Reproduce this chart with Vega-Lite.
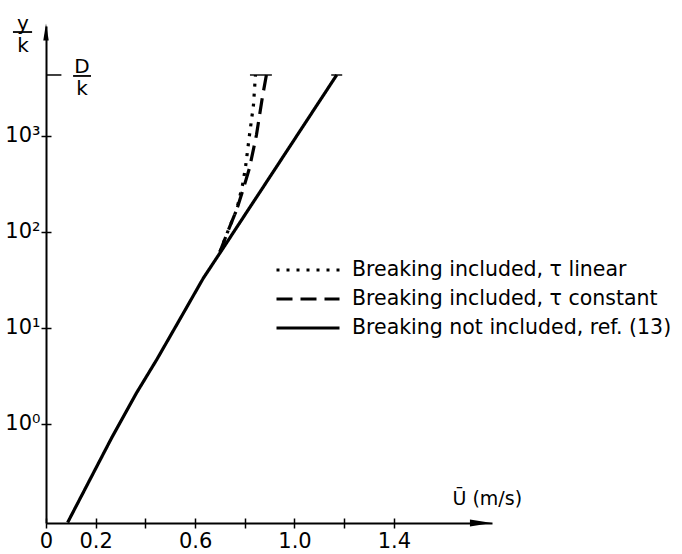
{
  "$schema": "https://vega.github.io/schema/vega-lite/v6.json",
  "width": 446,
  "height": 497,
  "autosize": {"type": "none"},
  "padding": {"left": 46, "top": 26, "right": 190, "bottom": 31},
  "background": "white",
  "config": {
    "view": {"stroke": null},
    "font": "DejaVu Sans",
    "axis": {"grid": false, "domainColor": "black", "tickColor": "black", "labelColor": "black", "titleColor": "black", "titleFontWeight": "normal"}
  },
  "datasets": {
    "curves": [
      {"series": "Breaking not included, ref. (13)", "U": 0.087, "y": 0.094},
      {"series": "Breaking not included, ref. (13)", "U": 0.264, "y": 0.715},
      {"series": "Breaking not included, ref. (13)", "U": 0.364, "y": 2.1},
      {"series": "Breaking not included, ref. (13)", "U": 0.445, "y": 4.65},
      {"series": "Breaking not included, ref. (13)", "U": 0.537, "y": 12.1},
      {"series": "Breaking not included, ref. (13)", "U": 0.633, "y": 33},
      {"series": "Breaking not included, ref. (13)", "U": 0.703, "y": 62},
      {"series": "Breaking not included, ref. (13)", "U": 0.779, "y": 124},
      {"series": "Breaking not included, ref. (13)", "U": 0.885, "y": 324},
      {"series": "Breaking not included, ref. (13)", "U": 1.029, "y": 1200},
      {"series": "Breaking not included, ref. (13)", "U": 1.170, "y": 4320},
      {"series": "Breaking included, τ linear", "U": 0.700, "y": 62},
      {"series": "Breaking included, τ linear", "U": 0.734, "y": 105},
      {"series": "Breaking included, τ linear", "U": 0.767, "y": 169},
      {"series": "Breaking included, τ linear", "U": 0.791, "y": 309},
      {"series": "Breaking included, τ linear", "U": 0.803, "y": 475},
      {"series": "Breaking included, τ linear", "U": 0.819, "y": 1024},
      {"series": "Breaking included, τ linear", "U": 0.835, "y": 2104},
      {"series": "Breaking included, τ linear", "U": 0.843, "y": 4320},
      {"series": "Breaking included, τ constant", "U": 0.700, "y": 62},
      {"series": "Breaking included, τ constant", "U": 0.734, "y": 105},
      {"series": "Breaking included, τ constant", "U": 0.767, "y": 169},
      {"series": "Breaking included, τ constant", "U": 0.795, "y": 287},
      {"series": "Breaking included, τ constant", "U": 0.819, "y": 464},
      {"series": "Breaking included, τ constant", "U": 0.847, "y": 1024},
      {"series": "Breaking included, τ constant", "U": 0.871, "y": 2547},
      {"series": "Breaking included, τ constant", "U": 0.887, "y": 4320}
    ]
  },
  "layer": [
    {
      "data": {"name": "curves"},
      "mark": {"type": "line", "strokeWidth": 3.2, "color": "black", "clip": false},
      "encoding": {
        "x": {
          "field": "U", "type": "quantitative",
          "scale": {"domain": [0, 1.795], "nice": false, "zero": false},
          "axis": {
            "orient": "bottom",
            "values": [0, 0.2, 0.4, 0.6, 0.8, 1.0, 1.2, 1.4],
            "labelExpr": "datum.value == 0 ? '0' : ((abs(datum.value - 0.4) < 0.01 || abs(datum.value - 0.8) < 0.01 || abs(datum.value - 1.2) < 0.01) ? '' : format(datum.value, '.1f'))",
            "labelFontSize": 21, "labelPadding": 2, "labelFlush": false, "labelOverlap": false,
            "tickSize": 5, "tickWidth": 1.5, "domainWidth": 2,
            "title": "Ū (m/s)", "titleFontSize": 19, "titleAlign": "left", "titleBaseline": "alphabetic",
            "titleX": 406, "titleY": -19
          }
        },
        "y": {
          "field": "y", "type": "quantitative",
          "scale": {"type": "log", "domain": [0.093, 13990], "nice": false},
          "axis": {
            "orient": "left",
            "values": [1, 10, 100, 1000],
            "labelExpr": "'10' + (datum.value < 5 ? '⁰' : datum.value < 50 ? '¹' : datum.value < 500 ? '²' : '³')",
            "labelFontSize": 21, "labelPadding": 1, "labelFlush": false, "labelOverlap": false,
            "tickSize": 5, "tickWidth": 1.5, "domainWidth": 2,
            "title": ["y", "k"], "titleFontSize": 20, "titleLineHeight": 22, "titleAngle": 0,
            "titleAlign": "center", "titleBaseline": "middle", "titleX": -23.5, "titleY": -3
          }
        },
        "strokeDash": {
          "field": "series", "type": "nominal",
          "scale": {
            "domain": ["Breaking included, τ linear", "Breaking included, τ constant", "Breaking not included, ref. (13)"],
            "range": [[3, 7], [16, 8], [1, 0]]
          },
          "legend": {
            "title": null, "orient": "none", "legendX": 250, "legendY": 232,
            "symbolType": "M-3,0H3", "symbolSize": 441, "symbolStrokeWidth": 3, "symbolStrokeColor": "black", "symbolFillColor": "transparent",
            "labelFontSize": 20.5, "labelColor": "black", "labelOffset": 32, "rowPadding": 6, "labelLimit": 400
          }
        }
      }
    },
    {
      "data": {"name": "curves"},
      "transform": [{"filter": "datum.y >= 4320"}],
      "mark": {"type": "tick", "orient": "horizontal", "size": 11, "thickness": 2, "color": "black", "clip": false},
      "encoding": {
        "x": {
          "field": "U", "type": "quantitative",
          "scale": {"domain": [0, 1.795], "nice": false, "zero": false},
          "axis": {"orient": "bottom", "offset": -5, "values": [0, 0.2, 0.4, 0.6, 0.8, 1.0, 1.2, 1.4], "labels": false, "domain": false, "tickSize": 5, "tickWidth": 1.5, "title": null}
        },
        "y": {
          "field": "y", "type": "quantitative",
          "scale": {"type": "log", "domain": [0.093, 13990], "nice": false},
          "axis": {"orient": "left", "offset": -5, "values": [1, 10, 100, 1000], "labels": false, "domain": false, "tickSize": 5, "tickWidth": 1.5, "title": null}
        }
      }
    },
    {
      "data": {"values": [{}]},
      "mark": {"type": "rule", "strokeWidth": 1.5, "color": "black", "clip": false},
      "encoding": {
        "x": {"datum": 0, "type": "quantitative", "axis": null},
        "x2": {"datum": 0.062},
        "y": {"datum": 4320, "type": "quantitative", "axis": null}
      }
    },
    {
      "data": {"values": [{}]},
      "mark": {"type": "rule", "strokeWidth": 1.8, "color": "black", "clip": false},
      "encoding": {
        "x": {"datum": 0.109, "type": "quantitative", "axis": null},
        "x2": {"datum": 0.181},
        "y": {"datum": 4220, "type": "quantitative", "axis": null}
      }
    },
    {
      "data": {"values": [{}]},
      "mark": {"type": "rule", "strokeWidth": 1.8, "color": "black", "clip": false},
      "encoding": {
        "x": {"datum": -0.133, "type": "quantitative", "axis": null},
        "x2": {"datum": -0.056},
        "y": {"datum": 12110, "type": "quantitative", "axis": null}
      }
    },
    {
      "data": {"values": [{}]},
      "mark": {"type": "text", "fontSize": 20, "lineHeight": 22, "align": "center", "baseline": "middle", "color": "black", "clip": false, "text": ["D", "k"]},
      "encoding": {
        "x": {"datum": 0.145, "type": "quantitative", "axis": null},
        "y": {"datum": 5236, "type": "quantitative", "axis": null}
      }
    },
    {
      "data": {"values": [{}]},
      "mark": {"type": "point", "shape": "M0,-1L0.32,1L-0.32,1Z", "size": 289, "filled": true, "color": "black", "opacity": 1, "clip": false},
      "encoding": {
        "x": {"datum": 0, "type": "quantitative", "axis": null},
        "y": {"datum": 12110, "type": "quantitative", "axis": null}
      }
    },
    {
      "data": {"values": [{}]},
      "mark": {"type": "point", "shape": "M1,0L-1,0.32L-1,-0.32Z", "size": 484, "filled": true, "color": "black", "opacity": 1, "clip": false},
      "encoding": {
        "x": {"datum": 1.7505, "type": "quantitative", "axis": null},
        "y": {"datum": 0.093, "type": "quantitative", "axis": null}
      }
    }
  ],
  "resolve": {"axis": {"x": "independent", "y": "independent"}}
}
